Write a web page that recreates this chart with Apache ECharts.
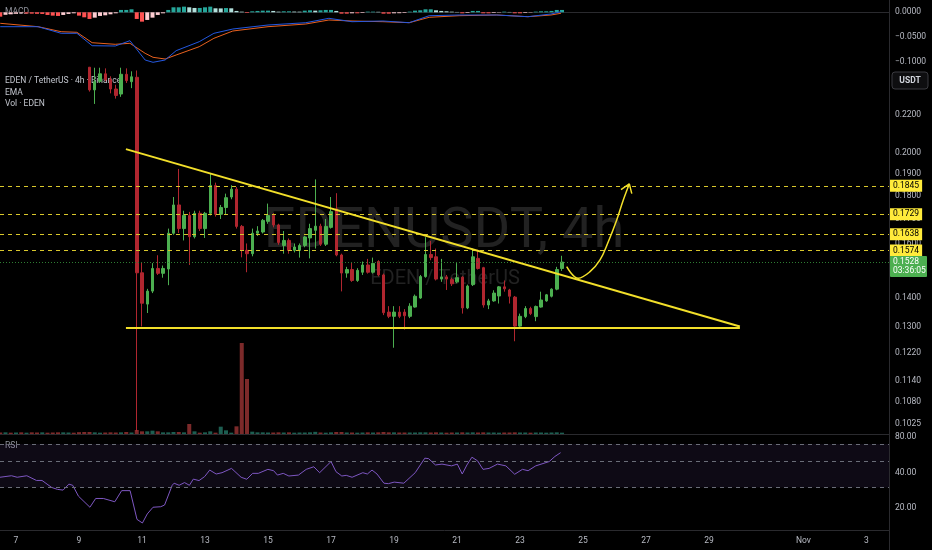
<!DOCTYPE html>
<html><head><meta charset="utf-8">
<script src="https://cdn.jsdelivr.net/npm/echarts@6/dist/echarts.min.js"></script>
<style>html,body{margin:0;padding:0;background:#000;}#c{width:932px;height:550px;}</style>
</head><body><div id="c"></div>
<script>
// ---- DATA ----
// candle index: 4h periods counted from Oct 7 00:00 (first candle = -3)
const firstCandle = -3;
const opens  = [.2900,.2860,.2880,.2830,.2840,.2810,.2830,.2790,.2750,.2760,.2700,.2660,.2620,.2640,.2660,.2620,.2560,
  .2475,.2340,.2390,.2435,.2400,.2345,.2316,.2432,.2388,.2414,.1488,.1377,.1422,.1504,.1486,.1502,.1641,.1760,.1660,.1715,
  .1627,.1724,.1660,.1724,.1847,.1720,.1749,.1795,.1830,.1669,.1573,.1560,.1641,.1646,.1690,.1715,.1675,.1592,.1612,.1573,
  .1573,.1592,.1622,.1653,.1670,.1597,.1665,.1743,.1555,.1487,.1500,.1460,.1490,.1517,.1490,.1530,.1480,.1350,.1336,.1350,
  .1350,.1336,.1367,.1398,.1474,.1557,.1548,.1465,.1473,.1463,.1455,.1472,.1364,.1445,.1542,.1507,.1374,.1388,.1405,.1437,
  .1426,.1401,.1304,.1335,.1362,.1335,.1367,.1388,.1404,.1429,.1504];
const closes = [.2860,.2880,.2830,.2840,.2810,.2830,.2790,.2750,.2760,.2700,.2660,.2620,.2640,.2660,.2620,.2560,.2500,
  .2340,.2388,.2435,.2400,.2345,.2308,.2432,.2394,.2417,.1488,.1380,.1422,.1504,.1486,.1504,.1641,.1760,.1660,.1715,.1627,
  .1724,.1660,.1724,.1847,.1720,.1749,.1792,.1830,.1669,.1573,.1560,.1641,.1650,.1694,.1715,.1675,.1604,.1612,.1573,.1586,
  .1592,.1626,.1660,.1670,.1597,.1669,.1731,.1555,.1487,.1500,.1460,.1497,.1517,.1490,.1523,.1480,.1348,.1336,.1350,.1336,
  .1338,.1370,.1404,.1474,.1557,.1545,.1465,.1473,.1465,.1448,.1470,.1364,.1440,.1548,.1504,.1374,.1388,.1415,.1437,.1430,
  .1404,.1304,.1336,.1362,.1345,.1369,.1391,.1409,.1429,.1500,.1528];
const lows   = [.2840,.2830,.2810,.2800,.2790,.2780,.2770,.2730,.2720,.2680,.2640,.2600,.2590,.2610,.2600,.2540,.2480,
  .2330,.2260,.2380,.2390,.2320,.2290,.2300,.2380,.2350,.1005,.1303,.1347,.1415,.1480,.1470,.1443,.1635,.1642,.1612,.1517,
  .1620,.1650,.1622,.1715,.1710,.1700,.1720,.1785,.1660,.1546,.1490,.1550,.1630,.1640,.1680,.1665,.1595,.1560,.1560,.1565,
  .1545,.1585,.1542,.1580,.1590,.1590,.1660,.1550,.1421,.1470,.1455,.1455,.1480,.1485,.1485,.1475,.1340,.1330,.1236,.1330,
  .1293,.1330,.1365,.1395,.1470,.1535,.1460,.1455,.1426,.1440,.1450,.1345,.1360,.1440,.1500,.1365,.1360,.1385,.1379,.1420,
  .1379,.1256,.1300,.1330,.1340,.1320,.1365,.1385,.1400,.1425,.1495];
const highs  = [.2950,.2920,.2900,.2880,.2870,.2860,.2850,.2820,.2800,.2780,.2720,.2680,.2670,.2690,.2680,.2640,.2580,
  .2475,.2472,.2472,.2468,.2420,.2370,.2472,.2468,.2450,.2455,.1527,.1430,.1524,.1554,.1515,.1660,.1795,.1924,.1735,.1730,
  .1735,.1735,.1730,.1900,.1860,.1760,.1810,.1848,.1840,.1675,.1600,.1660,.1670,.1700,.1766,.1725,.1680,.1650,.1620,.1600,
  .1600,.1630,.1680,.1875,.1680,.1700,.1795,.1812,.1560,.1510,.1525,.1505,.1530,.1540,.1545,.1535,.1485,.1370,.1370,.1370,
  .1360,.1380,.1410,.1480,.1625,.1610,.1580,.1540,.1480,.1470,.1524,.1475,.1445,.1580,.1575,.1510,.1395,.1425,.1440,.1460,
  .1430,.1405,.1345,.1370,.1368,.1372,.1420,.1412,.1432,.1510,.1552];
const volumes = [0.45,0.5,0.4,0.45,0.5,0.4,0.5,0.45,0.5,0.4,0.45,0.5,0.5,0.45,0.4,0.55,0.6,
  0.6,0.5,0.4,0.45,0.5,0.45,0.5,0.6,0.45,1.2,0.8,0.8,1.0,0.8,0.5,0.5,0.6,0.6,0.5,3.0,0.8,0.4,0.5,0.8,0.4,2.2,1.1,0.4,2.3,27.3,16.5,0.7,0.5,0.5,0.45,0.45,0.5,
  0.45,0.5,0.4,0.45,0.45,0.5,0.65,0.45,0.4,0.5,0.6,0.6,0.45,0.45,0.4,0.45,0.5,0.45,0.5,0.6,0.5,0.5,0.45,0.45,0.45,0.45,0.5,
  0.5,0.45,0.5,0.45,0.4,0.45,0.45,0.5,0.45,0.5,0.45,0.5,0.45,0.45,0.4,0.45,0.45,0.5,0.45,0.45,0.4,0.45,0.45,0.4,0.45,0.5,0.4];
const macdHist = [-0.0087,-0.005,-0.004,-0.003,-0.002,-0.0025,-0.0027,-0.003,-0.0033,-0.0053,-0.0067,-0.0073,-0.0053,-0.0033,-0.002,
  -0.0067,-0.010,-0.0133,-0.0107,-0.0073,-0.006,-0.004,-0.002,0.0047,0.0047,0.006,-0.0133,-0.0187,-0.0153,-0.0107,-0.0053,-0.002,
  0.0047,0.010,0.010,0.0113,0.010,0.0087,0.0087,0.010,0.0113,0.008,0.0078,0.0085,0.008,0.0027,0.0013,-0.0013,0.002,0.0027,0.0033,
  0.0033,0.0027,0.0013,0.002,0.002,0.0015,0.0013,0.0033,0.004,0.0033,0.004,0.0047,0.0047,0.0027,-0.0027,-0.0027,-0.002,-0.002,
  -0.0013,0.0013,0.0013,0.001,-0.0027,-0.0027,-0.002,-0.0018,-0.0013,0.0013,0.0033,0.004,0.006,0.006,0.004,0.0027,0.002,0.0013,
  0.0007,-0.002,-0.0013,0.0027,0.0027,-0.002,-0.002,-0.0013,-0.0007,0.0013,0.0007,-0.002,-0.002,-0.0013,-0.0007,0.0013,0.002,
  0.002,0.0027,0.0047,0.0047];
const macdLine = [[-3,-0.0288],[4.2,-0.0288],[8.6,-0.042],[11.6,-0.042],[14.5,-0.0668],[18.9,-0.0674],[21.7,-0.0568],[24.6,-0.0954],
  [26.1,-0.100],[28.4,-0.0954],[30.5,-0.0768],[34.9,-0.0588],[37.7,-0.042],[41.3,-0.0334],[48,-0.0254],[55.2,-0.0208],[59.6,-0.012],
  [64,-0.0188],[69.9,-0.0174],[74.9,-0.0208],[78.7,-0.0068],[84.4,-0.0054],[91.6,-0.0054],[97.5,-0.0088],[101.9,-0.0034],[103.8,0.0012]];
const signalLine = [[-3,-0.022],[4.2,-0.0288],[8.6,-0.0388],[11.6,-0.040],[14.5,-0.0608],[18.9,-0.064],[21.7,-0.062],[24.6,-0.082],
  [26.1,-0.090],[28.4,-0.0934],[30.5,-0.0854],[34.9,-0.0688],[37.7,-0.052],[41.3,-0.0374],[48,-0.0288],[55.2,-0.0234],[59.6,-0.0154],
  [64,-0.0174],[69.9,-0.0188],[74.9,-0.0208],[78.7,-0.010],[84.4,-0.0068],[91.6,-0.0054],[97.5,-0.0088],[101.9,-0.0054],[103.8,-0.002]];
const emaLine = [[33,0.264],[35,0.2576],[38.3,0.2469],[41.3,0.2378],[45.1,0.2263],[49.7,0.2180],[52.2,0.2119],[54.1,0.2075],
  [57.9,0.2016],[59.8,0.1992],[63,0.1935],[68,0.1859],[71.2,0.1790],[75,0.1733],[77,0.1714],[80.1,0.1696],[83.2,0.1662],[85.8,0.1642],
  [87.8,0.1631],[90.9,0.1603],[94.1,0.1578],[97.3,0.1553],[100.4,0.1534],[103.6,0.1526]];
const rsiLine = [[-3.05,36.6],[-0.86,37.7],[0.23,36.6],[2.06,37.7],[3.89,34.4],[4.95,34.4],[6.8,30.0],[7.89,28.9],[8.97,28.5],
  [10.08,32.0],[10.8,31.3],[11.9,25.3],[14.08,20.4],[15.18,24.2],[16.63,24.2],[18.82,22.7],[20.13,28.2],[21.73,28.2],[22.1,28.5],
  [23.05,16.1],[24.08,15.0],[25.0,17.9],[26.1,20.4],[27.56,20.6],[28.3,21.3],[29.75,31.3],[30.11,32.6],[31.07,31.3],[32.1,33.0],
  [33.03,31.3],[33.77,35.3],[34.86,34.3],[35.94,37.1],[36.9,42.1],[38.13,39.0],[39.24,40.0],[41.05,43.5],[42.88,36.6],[43.96,35.2],
  [45.07,39.5],[46.15,39.5],[47.98,42.7],[49.07,41.6],[49.8,38.2],[50.9,39.5],[51.98,37.5],[53.8,38.2],[55.28,42.7],[56.72,44.9],
  [57.83,40.0],[60.0,49.7],[60.95,40.8],[62.06,37.5],[62.9,38.0],[64.02,36.6],[66.06,40.0],[66.93,39.0],[67.81,42.1],[68.76,39.0],
  [70.08,32.6],[70.93,32.3],[72.04,33.3],[73.87,32.6],[76.04,40.0],[77.87,53.1],[78.59,52.6],[79.9,46.5],[81.14,47.3],[82.97,45.7],
  [84.06,47.3],[85.0,39.0],[85.89,46.5],[86.84,54.1],[87.92,50.4],[88.95,42.7],[90.11,43.5],[91.71,47.3],[93.31,45.7],[94.99,38.8],
  [96.46,42.7],[97.54,41.6],[99.0,45.7],[101.56,49.7],[102.65,54.9],[103.73,59.1]];
// drawings (day of October, price)
const resistanceLine = [[10.49,0.2021],[29.98,0.1303]];
const supportLine = [[10.49,0.1298],[29.98,0.1298]];
const projectionCurve = [[24.482,0.1511],[24.851,0.1468],[25.222,0.1492],[25.540,0.1536],[25.803,0.1607],[26.070,0.1696],[26.279,0.1782],[26.470,0.1854]];
const projectionHead = [[26.206,0.1828],[26.470,0.1854],[26.549,0.1810]];
const levelPrices = [0.1845,0.1729,0.1638,0.1574];
const lastPrice = 0.1528;
const countdown = '03:36:05';
const priceTicks = [0.22,0.20,0.19,0.18,0.17,0.16,0.14,0.13,0.122,0.114,0.108,0.1025];
const macdTicks = [0,-0.05,-0.1];
const rsiTicks = [80,40,20];
const rsiLevels = [70,50,30];
const xTickDays = [7,9,11,13,15,17,19,21,23,25,27,29,32,34];
const xTickLabels = ['7','9','11','13','15','17','19','21','23','25','27','29','Nov','3'];

// ---- BUILD ----
const L = Math.log;
const dayOf = k => 7 + k / 6;
const GREEN = '#4caf50', RED = '#b0262f';
const n = opens.length;
const candleData = [], volData = [], histData = [];
for (let i = 0; i < n; i++) {
  const d = dayOf(firstCandle + i);
  const up = closes[i] >= opens[i];
  candleData.push([d, L(opens[i]), L(closes[i]), L(lows[i]), L(highs[i])]);
  volData.push({value: [d, volumes[i]], itemStyle: {color: up ? '#1d5e51' : '#7c2a2a'}});
  const v = macdHist[i], p = i > 0 ? macdHist[i - 1] : v;
  const col = v >= 0 ? (v >= p ? '#26a69a' : '#b2dfdb') : (v <= p ? '#ff5252' : '#ffcdd2');
  histData.push({value: [d, v], itemStyle: {color: col}});
}
const kv = arr => arr.map(([k, v]) => [dayOf(k), v]);
const dp = arr => arr.map(([d, p]) => [d, L(p)]);

const X_MIN = 6.4921, X_MAX = 34.714;
const SEP = '#2a2a2e';
const LBL = '#b8bbc4';
const FONT = 'Roboto';
const FS = 8.5;
function xAx(idx, showLine, showLabel) {
  return {type: 'value', gridIndex: idx, min: X_MIN, max: X_MAX,
    axisLine: {show: showLine, lineStyle: {color: SEP}}, axisTick: {show: false}, splitLine: {show: false},
    axisLabel: showLabel ? {show: true, customValues: xTickDays, color: LBL, fontSize: FS, margin: 6, fontFamily: FONT,
      formatter: v => xTickLabels[xTickDays.indexOf(Math.round(v))] || ''} : {show: false}};
}
const yLabel = (vals, fmt) => ({show: true, customValues: vals, color: LBL, fontSize: FS, margin: 6, fontFamily: FONT, formatter: fmt});

const levelMarks = levelPrices.map(p => ({yAxis: L(p), label: {formatter: p.toFixed(4)}}));

const baseGraphic = [
  {type: 'text', z: -10, style: {x: 444, y: 233, text: 'EDENUSDT, 4h', fill: '#222222', font: '56px Roboto', align: 'center', verticalAlign: 'middle'}},
  {type: 'text', z: -10, style: {x: 445, y: 279, text: 'EDEN / TetherUS', fill: '#222222', font: '20px Roboto', align: 'center', verticalAlign: 'middle'}},
  {type: 'text', style: {x: 5, y: 12, text: 'MACD', fill: '#8f929b', font: '8.5px Roboto', verticalAlign: 'middle'}},
  {type: 'text', style: {x: 5, y: 80.5, text: 'EDEN / TetherUS \u00b7 4h \u00b7 Binance', fill: '#c3c6ce', font: '8.5px Roboto', verticalAlign: 'middle'}},
  {type: 'text', style: {x: 5, y: 92.5, text: 'EMA', fill: '#c3c6ce', font: '8.5px Roboto', verticalAlign: 'middle'}},
  {type: 'text', style: {x: 5, y: 104, text: 'Vol \u00b7 EDEN', fill: '#c3c6ce', font: '8.5px Roboto', verticalAlign: 'middle'}},
  {type: 'text', style: {x: 5, y: 446, text: 'RSI', fill: '#8f929b', font: '8.5px Roboto', verticalAlign: 'middle'}},
  {type: 'rect', shape: {x: 892, y: 72, width: 36, height: 17, r: 3}, style: {fill: '#0e0e10', stroke: '#3b3b40', lineWidth: 1}},
  {type: 'text', style: {x: 910, y: 80.5, text: 'USDT', fill: '#d1d4dc', font: 'bold 8.5px Roboto', align: 'center', verticalAlign: 'middle'}},
  {type: 'line', shape: {x1: 889.5, y1: 530, x2: 889.5, y2: 550}, style: {stroke: SEP, lineWidth: 1}}
];

const option = {
  backgroundColor: '#000',
  animation: false,
  textStyle: {fontFamily: FONT},
  grid: [
    {left: 0, right: 43, top: 0, height: 68},
    {left: 0, right: 43, top: 68, height: 366},
    {left: 0, right: 43, top: 334, height: 100},
    {left: 0, right: 43, top: 434, height: 96}
  ],
  xAxis: [xAx(0, true, false), xAx(1, true, false), xAx(2, false, false), xAx(3, true, true)],
  yAxis: [
    {type: 'value', gridIndex: 0, position: 'right', min: -0.1114, max: 0.0246, splitLine: {show: false}, axisTick: {show: false},
      axisLine: {show: true, lineStyle: {color: SEP}},
      axisLabel: yLabel(macdTicks, v => (v < -1e-9 ? '\u2212' : '') + Math.abs(v).toFixed(4))},
    {type: 'value', gridIndex: 1, position: 'right', min: L(0.09984), max: L(0.24702), splitLine: {show: false}, axisTick: {show: false},
      axisLine: {show: true, lineStyle: {color: SEP}},
      axisLabel: yLabel(priceTicks.map(L), v => Math.exp(v).toFixed(4))},
    {type: 'value', gridIndex: 2, min: 0, max: 30, show: false},
    {type: 'value', gridIndex: 3, position: 'right', min: L(13.09), max: L(85.06), splitLine: {show: false}, axisTick: {show: false},
      axisLine: {show: true, lineStyle: {color: SEP}},
      axisLabel: yLabel(rsiTicks.map(L), v => Math.exp(v).toFixed(2))}
  ],
  graphic: baseGraphic,
  series: [
    {type: 'bar', xAxisIndex: 0, yAxisIndex: 0, data: histData, barWidth: 4, z: 1},
    {type: 'line', xAxisIndex: 0, yAxisIndex: 0, data: kv(signalLine), showSymbol: false, lineStyle: {color: '#e8611f', width: 1}, z: 2},
    {type: 'line', xAxisIndex: 0, yAxisIndex: 0, data: kv(macdLine), showSymbol: false, lineStyle: {color: '#2458e0', width: 1}, z: 3},
    {type: 'bar', xAxisIndex: 2, yAxisIndex: 2, data: volData, barWidth: 4, z: 1},
    {type: 'candlestick', xAxisIndex: 1, yAxisIndex: 1, data: candleData, encode: {x: 0, y: [1, 2, 3, 4]}, barWidth: 3, z: 3,
      itemStyle: {color: GREEN, color0: RED, borderColor: GREEN, borderColor0: RED, borderWidth: 1},
      markLine: {silent: true, symbol: 'none', z: 5,
        lineStyle: {color: '#2e7d32', type: [1, 2], width: 1},
        label: {show: false},
        data: [{yAxis: L(lastPrice)}]}},
    {type: 'line', xAxisIndex: 1, yAxisIndex: 1, data: dp(emaLine), showSymbol: false, lineStyle: {color: '#2451d6', width: 1}, z: 4},
    {type: 'line', xAxisIndex: 1, yAxisIndex: 1, data: dp(resistanceLine), showSymbol: false, lineStyle: {color: '#f2df2a', width: 2}, z: 6,
      markLine: {silent: true, symbol: 'none', z: 6,
        lineStyle: {color: '#d9c82c', type: [4, 4], width: 1},
        label: {position: 'end', distance: 1, backgroundColor: '#ffeb3b', color: '#000', fontSize: FS, padding: [2, 3, 1, 3], fontFamily: FONT},
        data: levelMarks}},
    {type: 'line', xAxisIndex: 1, yAxisIndex: 1, data: dp(supportLine), showSymbol: false, lineStyle: {color: '#f2df2a', width: 2}, z: 6},
    {type: 'line', xAxisIndex: 1, yAxisIndex: 1, data: dp(projectionCurve), smooth: 0.4, showSymbol: false, lineStyle: {color: '#f2df2a', width: 1.5}, z: 6},
    {type: 'line', xAxisIndex: 1, yAxisIndex: 1, data: dp(projectionHead), showSymbol: false, lineStyle: {color: '#f2df2a', width: 1.5}, z: 6},
    {type: 'line', xAxisIndex: 3, yAxisIndex: 3, data: rsiLine.map(([k, v]) => [dayOf(k), L(v)]), showSymbol: false,
      lineStyle: {color: '#7e57c2', width: 1}, z: 4,
      markArea: {silent: true, itemStyle: {color: 'rgba(126,87,194,0.11)'}, data: [[{yAxis: L(rsiLevels[0])}, {yAxis: L(rsiLevels[2])}]]},
      markLine: {silent: true, symbol: 'none', label: {show: false}, lineStyle: {color: '#6a6d78', type: [4, 4], width: 1},
        data: rsiLevels.map(v => ({yAxis: L(v)}))}}
  ]
};
const chart = echarts.init(document.getElementById('c'));
chart.setOption(option);
// last-price tag on the price scale, placed through the axis scale
const py = chart.convertToPixel({yAxisIndex: 1}, L(lastPrice));
chart.setOption({graphic: baseGraphic.concat([
  {type: 'rect', z: 20, shape: {x: 890, y: py - 6, width: 37, height: 21, r: 1}, style: {fill: GREEN}},
  {type: 'text', z: 21, style: {x: 893, y: py - 0.5, text: lastPrice.toFixed(4), fill: '#ffffff', font: '8.5px Roboto', verticalAlign: 'middle'}},
  {type: 'text', z: 21, style: {x: 893, y: py + 8.5, text: countdown, fill: '#ffffff', font: '8.5px Roboto', verticalAlign: 'middle'}}
])});
</script>
</body></html>
